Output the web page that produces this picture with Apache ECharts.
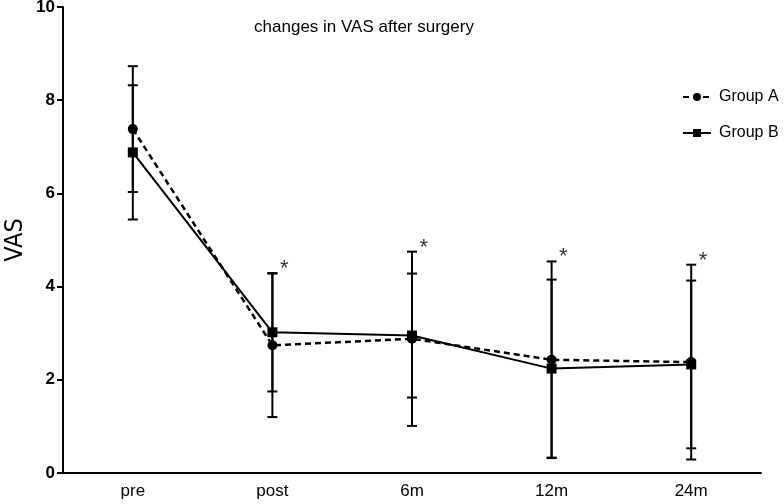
<!DOCTYPE html>
<html>
<head>
<meta charset="utf-8">
<script src="https://cdn.jsdelivr.net/npm/echarts@6/dist/echarts.min.js"></script>
<style>html,body{margin:0;padding:0;background:#fff;}#chart{width:784px;height:504px;}</style>
</head>
<body>
<div id="chart"></div>
<script>
const categories = ['pre', 'post', '6m', '12m', '24m'];
const groupAMean = [7.38, 2.74, 2.88, 2.43, 2.38];
const groupASD = [1.35, 1.54, 1.87, 2.11, 2.09];
const groupBMean = [6.88, 3.02, 2.95, 2.24, 2.33];
const groupBSD = [1.44, 1.27, 1.33, 1.91, 1.80];
const sigCategories = ['post', '6m', '12m', '24m'];
const yTicks = [0, 2, 4, 6, 8, 10];

const FONT = '"Liberation Sans", Arial, sans-serif';

function errData(mean, sd) {
  return mean.map((m, i) => [i, +(m - sd[i]).toFixed(2), +(m + sd[i]).toFixed(2)]);
}
function errRender(params, api) {
  const x = api.value(0);
  const lo = api.coord([x, api.value(1)]);
  const hi = api.coord([x, api.value(2)]);
  const w = 5;
  const st = { stroke: '#000', lineWidth: 2 };
  return {
    type: 'group',
    children: [
      { type: 'line', shape: { x1: lo[0], y1: lo[1], x2: hi[0], y2: hi[1] }, style: st },
      { type: 'line', shape: { x1: lo[0] - w, y1: lo[1], x2: lo[0] + w, y2: lo[1] }, style: st },
      { type: 'line', shape: { x1: hi[0] - w, y1: hi[1], x2: hi[0] + w, y2: hi[1] }, style: st }
    ]
  };
}
const sigData = sigCategories.map(c => {
  const i = categories.indexOf(c);
  return [i, Math.max(groupAMean[i] + groupASD[i], groupBMean[i] + groupBSD[i])];
});

const chart = echarts.init(document.getElementById('chart'));
chart.setOption({
  animation: false,
  backgroundColor: '#fff',
  title: {
    text: 'changes in VAS after surgery',
    left: 359, top: 14, textAlign: 'center',
    textStyle: { fontFamily: FONT, fontSize: 17, fontWeight: 'normal', color: '#000' }
  },
  legend: {
    orient: 'vertical', left: 677, top: 84,
    itemWidth: 28, itemHeight: 10, itemGap: 20,
    textStyle: { fontFamily: FONT, fontSize: 16, color: '#000', padding: [0, 0, 0, 3] },
    data: ['Group A', 'Group B']
  },
  grid: { left: 63, right: 23, top: 7, bottom: 31, containLabel: false, outerBoundsMode: 'none' },
  xAxis: {
    type: 'category', data: categories, boundaryGap: true,
    axisLine: { lineStyle: { color: '#000', width: 2 } },
    axisTick: { alignWithLabel: true, length: 6, lineStyle: { color: '#000', width: 2 } },
    axisLabel: { fontFamily: FONT, fontSize: 17, color: '#000', margin: 10 },
    splitLine: { show: false }
  },
  yAxis: {
    type: 'value', min: 0, max: 10, interval: 2,
    name: 'VAS', nameLocation: 'middle', nameGap: 35, nameMoveOverlap: false,
    nameTextStyle: { fontFamily: '"Liberation Sans Narrow", "DejaVu Sans Condensed", Arial, sans-serif', fontSize: 25, color: '#000' },
    axisLine: { show: true, lineStyle: { color: '#000', width: 2 } },
    axisTick: { show: true, length: 6, lineStyle: { color: '#000', width: 2 } },
    axisLabel: { fontFamily: FONT, fontSize: 17, fontWeight: 'bold', color: '#000', margin: 8,
      formatter: v => yTicks.includes(v) ? String(v) : '' },
    splitLine: { show: false }
  },
  series: [
    {
      type: 'custom', name: 'errA', renderItem: errRender, data: errData(groupAMean, groupASD),
      encode: { x: 0, y: [1, 2] }, z: 2, silent: true
    },
    {
      type: 'custom', name: 'errB', renderItem: errRender, data: errData(groupBMean, groupBSD),
      encode: { x: 0, y: [1, 2] }, z: 2, silent: true
    },
    {
      name: 'Group A', type: 'line', data: groupAMean,
      symbol: 'circle', symbolSize: 10,
      itemStyle: { color: '#000' },
      lineStyle: { color: '#000', width: 2.5, type: [6, 4] },
      z: 3
    },
    {
      name: 'Group B', type: 'line', data: groupBMean,
      symbol: 'rect', symbolSize: 10,
      itemStyle: { color: '#000' },
      lineStyle: { color: '#000', width: 2, type: 'solid' },
      z: 4
    },
    {
      type: 'scatter', name: 'sig', data: sigData, symbolSize: 1,
      itemStyle: { color: 'rgba(0,0,0,0)' }, silent: true,
      label: { show: true, formatter: '*', position: 'right', distance: 7, offset: [0, -4],
        fontFamily: FONT, fontSize: 22, color: '#000' }
    }
  ]
});
</script>
</body>
</html>
